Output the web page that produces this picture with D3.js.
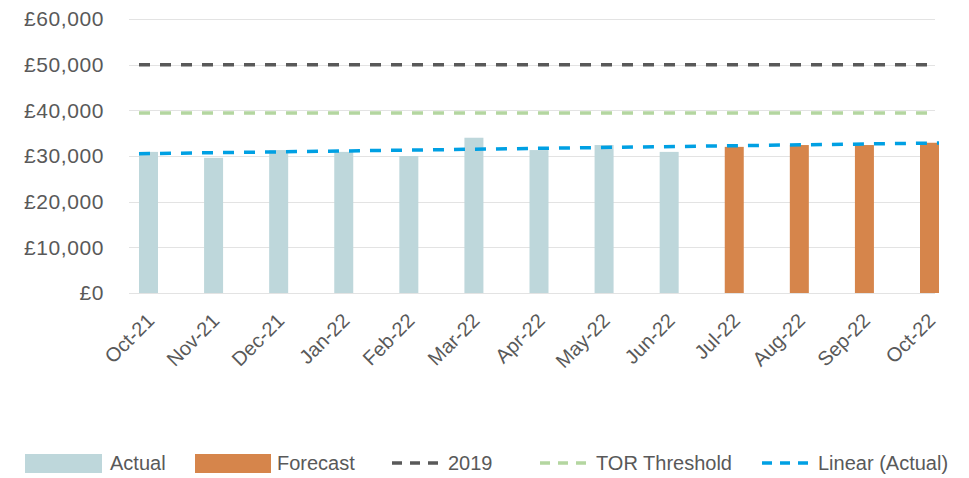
<!DOCTYPE html>
<html>
<head>
<meta charset="utf-8">
<script src="https://cdn.jsdelivr.net/npm/d3@7"></script>
<style>
  body { margin: 0; background: #fff; }
  text { font-family: "Liberation Sans", Arial, sans-serif; fill: #595959; }
</style>
</head>
<body>
<svg width="969" height="478"></svg>
<script>
// data
var months = ["Oct-21","Nov-21","Dec-21","Jan-22","Feb-22","Mar-22","Apr-22","May-22","Jun-22","Jul-22","Aug-22","Sep-22","Oct-22"];
var actual = [30900, 29600, 31300, 30900, 30000, 34000, 31300, 32400, 30900, null, null, null, null];
var forecast = [null, null, null, null, null, null, null, null, null, 32000, 32400, 32400, 32900];
var line2019 = 50000;
var torThreshold = 39400;
var trendEnds = [30500, 32850];
var yTicks = [0, 10000, 20000, 30000, 40000, 50000, 60000];

var colors = {
  actual: "#bed7db",
  forecast: "#d6854b",
  y2019: "#595959",
  tor: "#b4d6a0",
  trend: "#00a0e3"
};

var margins = { top: 19, left: 129, right: 34, bottom: 185 };
var svg = d3.select("svg");
var width = 969 - margins.left - margins.right;
var plotBottom = 293;

var yScale = d3.scaleLinear()
  .domain([0, 60000])
  .range([plotBottom, margins.top]);

var xScale = d3.scalePoint()
  .domain(months)
  .range([148.5, 929.5]);

var barW = 19;

// gridlines
svg.append("g").selectAll("line")
  .data(yTicks)
  .enter().append("line")
  .attr("x1", margins.left)
  .attr("x2", margins.left + width)
  .attr("y1", function(d){ return Math.round(yScale(d)) + 0.5; })
  .attr("y2", function(d){ return Math.round(yScale(d)) + 0.5; })
  .attr("stroke", "#e3e3e3")
  .attr("stroke-width", 1);

// y labels
svg.append("g").selectAll("text")
  .data(yTicks)
  .enter().append("text")
  .attr("x", 104)
  .attr("y", function(d){ return yScale(d); })
  .attr("dy", "0.35em")
  .attr("text-anchor", "end")
  .style("font-size", "21px")
  .style("letter-spacing", "0.6px")
  .text(function(d){ return "£" + d3.format(",")(d); });

// bars
var bars = svg.append("g");
bars.selectAll("rect.actual")
  .data(months.map(function(m, i){ return { m: m, v: actual[i] }; }).filter(function(d){ return d.v != null; }))
  .enter().append("rect")
  .attr("class", "actual")
  .attr("x", function(d){ return xScale(d.m) - barW / 2; })
  .attr("width", barW)
  .attr("y", function(d){ return yScale(d.v); })
  .attr("height", function(d){ return plotBottom - yScale(d.v); })
  .attr("fill", colors.actual);

bars.selectAll("rect.forecast")
  .data(months.map(function(m, i){ return { m: m, v: forecast[i] }; }).filter(function(d){ return d.v != null; }))
  .enter().append("rect")
  .attr("class", "forecast")
  .attr("x", function(d){ return xScale(d.m) - barW / 2; })
  .attr("width", barW)
  .attr("y", function(d){ return yScale(d.v); })
  .attr("height", function(d){ return plotBottom - yScale(d.v); })
  .attr("fill", colors.forecast);

// reference lines
var x0 = xScale(months[0]) - barW / 2;
var xEnd = margins.left + width;
svg.append("line")
  .attr("x1", x0).attr("x2", xEnd)
  .attr("y1", yScale(line2019)).attr("y2", yScale(line2019))
  .attr("stroke", colors.y2019).attr("stroke-width", 3.5)
  .attr("stroke-dasharray", "11,10");

svg.append("line")
  .attr("x1", x0).attr("x2", xEnd)
  .attr("y1", yScale(torThreshold)).attr("y2", yScale(torThreshold))
  .attr("stroke", colors.tor).attr("stroke-width", 3.5)
  .attr("stroke-dasharray", "11,10");

// linear trend (actual)
svg.append("line")
  .attr("x1", x0)
  .attr("x2", xScale(months[months.length - 1]) + barW / 2)
  .attr("y1", yScale(trendEnds[0]))
  .attr("y2", yScale(trendEnds[1]))
  .attr("stroke", colors.trend).attr("stroke-width", 3.5)
  .attr("stroke-dasharray", "11,10");

// x labels
svg.append("g").selectAll("text")
  .data(months)
  .enter().append("text")
  .attr("transform", function(d){ return "translate(" + (xScale(d) + 7) + ",322) rotate(-45)"; })
  .attr("text-anchor", "end")
  .style("font-size", "20px")
  .text(function(d){ return d; });

// legend
var legend = svg.append("g");
var ly = 463;
legend.append("rect").attr("x", 25).attr("y", 454).attr("width", 77).attr("height", 19).attr("fill", colors.actual);
legend.append("text").attr("x", 110).attr("y", ly).attr("dy", "0.35em").style("font-size", "20px").text("Actual");
legend.append("rect").attr("x", 195).attr("y", 454).attr("width", 76).attr("height", 19).attr("fill", colors.forecast);
legend.append("text").attr("x", 277).attr("y", ly).attr("dy", "0.35em").style("font-size", "20px").text("Forecast");

var dashItems = [
  { x: 392, label: "2019", color: colors.y2019 },
  { x: 540, label: "TOR Threshold", color: colors.tor },
  { x: 762, label: "Linear (Actual)", color: colors.trend }
];
dashItems.forEach(function(d){
  legend.append("line")
    .attr("x1", d.x).attr("x2", d.x + 46)
    .attr("y1", ly).attr("y2", ly)
    .attr("stroke", d.color).attr("stroke-width", 3.5)
    .attr("stroke-dasharray", "10,8");
  legend.append("text")
    .attr("x", d.x + 56).attr("y", ly).attr("dy", "0.35em")
    .style("font-size", "20px")
    .text(d.label);
});
</script>
</body>
</html>
